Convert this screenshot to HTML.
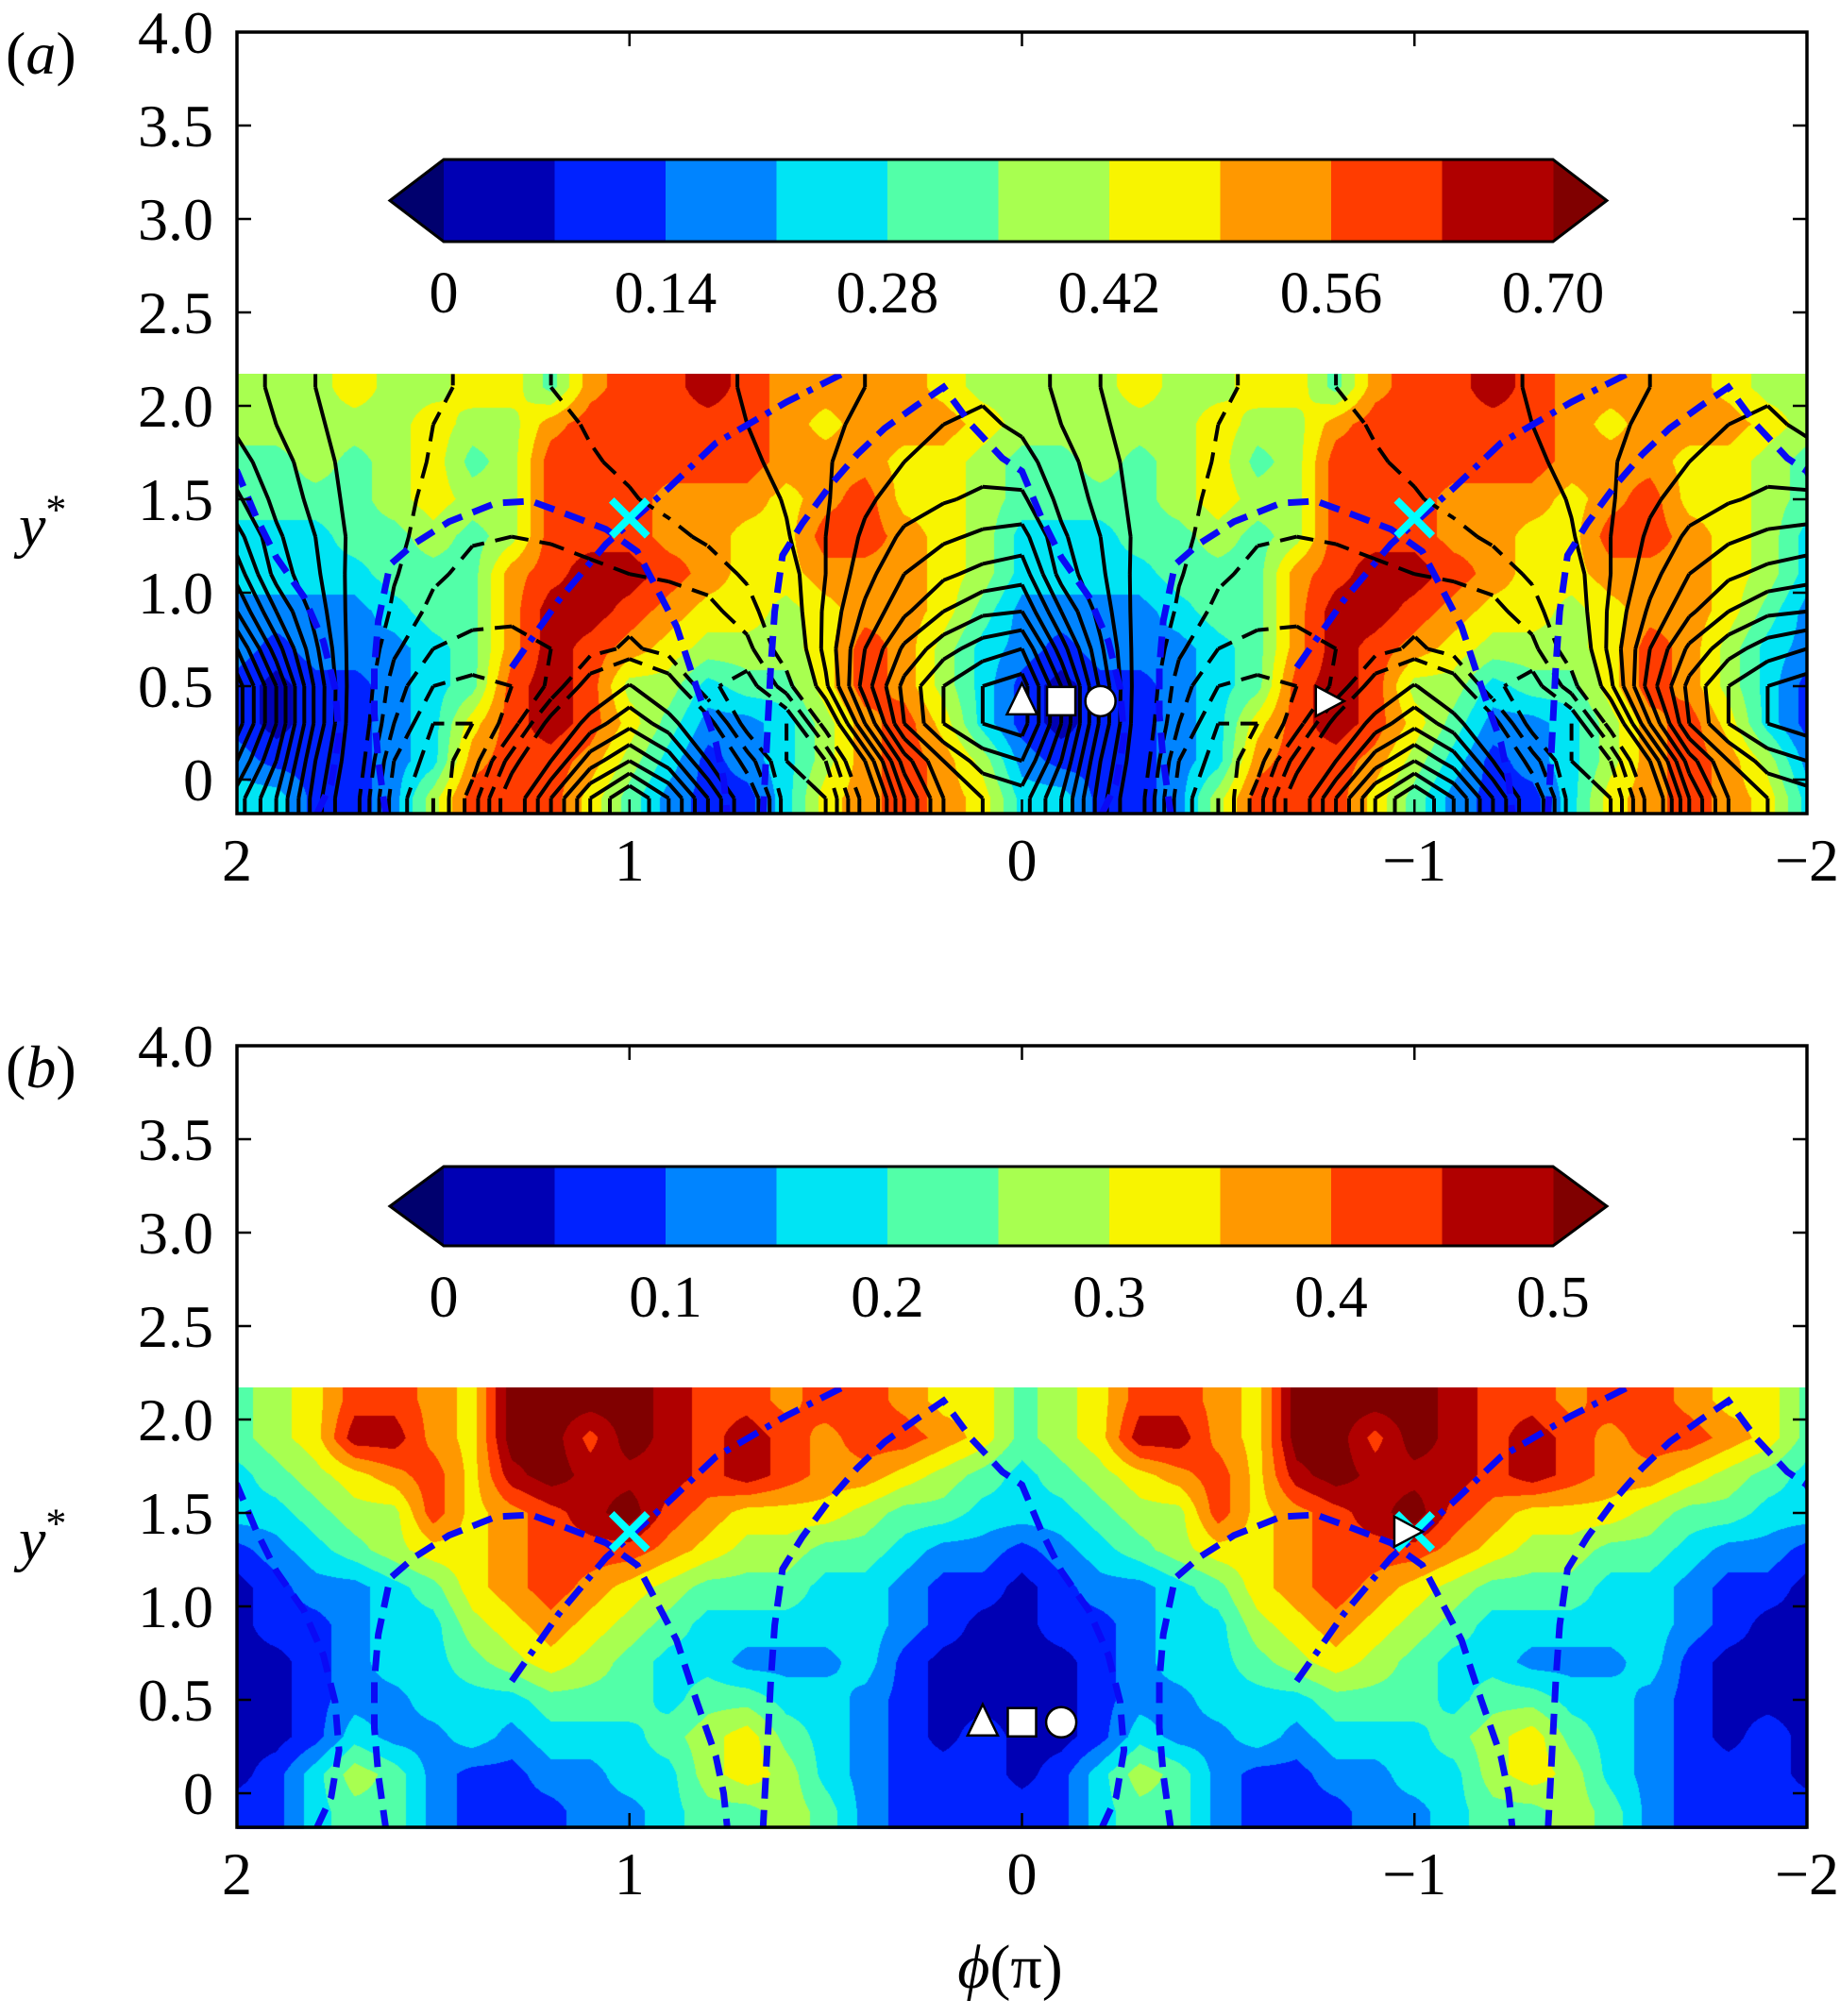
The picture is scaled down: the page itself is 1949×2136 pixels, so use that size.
<!DOCTYPE html>
<html><head><meta charset="utf-8"><style>
html,body{margin:0;padding:0;background:#fff;}
#wrap{position:relative;width:1949px;height:2136px;overflow:hidden;background:#fff;}
canvas{position:absolute;}
svg{position:absolute;left:0;top:0;}
text{font-family:"Liberation Serif",serif;fill:#000;}
</style></head><body>
<div id="wrap">
<canvas id="ca" width="1663" height="466" style="left:251px;top:396px"></canvas>
<canvas id="cb" width="1663" height="468" style="left:251px;top:1470px"></canvas>
<svg id="svg" width="1949" height="2136"></svg>
</div>
<script>
// ---------- data ----------
const phiTicks = [2, 1, 0, -1, -2];
const phiTickLabels = ['2', '1', '0', '\u22121', '\u22122'];
const yTicks = [0, 0.5, 1.0, 1.5, 2.0, 2.5, 3.0, 3.5, 4.0];
const yTickLabels = ['0', '0.5', '1.0', '1.5', '2.0', '2.5', '3.0', '3.5', '4.0'];
const cbarLabelsA = ['0', '0.14', '0.28', '0.42', '0.56', '0.70'];
const cbarLabelsB = ['0', '0.1', '0.2', '0.3', '0.4', '0.5'];
// grid: columns phi = 2.0, 1.9, ... 0.1 (one 2π period, repeated); rows y* below
const gridRowsY = [2.1, 1.9, 1.7, 1.5, 1.3, 1.1, 0.9, 0.7, 0.5, 0.3, 0.1, -0.1];
const fieldA = [
[.39,.39,.39,.46,.39,.39,.46,.46,.32,.53,.60,.60,.67,.60,.53,.53,.53,.53,.46,.39],
[.39,.39,.39,.39,.39,.46,.39,.39,.53,.60,.60,.60,.60,.60,.53,.46,.53,.53,.53,.46],
[.32,.32,.39,.32,.39,.46,.32,.39,.60,.60,.60,.60,.60,.60,.53,.53,.53,.46,.46,.39],
[.32,.32,.32,.32,.39,.46,.39,.39,.60,.60,.60,.53,.53,.53,.46,.53,.60,.46,.46,.39],
[.25,.25,.25,.32,.32,.39,.32,.39,.60,.60,.60,.53,.53,.46,.46,.60,.60,.53,.46,.39],
[.25,.25,.25,.25,.32,.32,.32,.53,.60,.67,.67,.60,.53,.46,.46,.53,.53,.53,.46,.39],
[.18,.18,.18,.18,.25,.32,.32,.53,.67,.67,.60,.53,.46,.46,.39,.46,.53,.53,.46,.32],
[.18,.11,.18,.18,.18,.25,.32,.53,.67,.60,.53,.46,.39,.39,.39,.46,.60,.53,.39,.25],
[.11,.04,.11,.11,.18,.25,.32,.60,.67,.60,.39,.39,.25,.32,.32,.46,.60,.53,.39,.25],
[.11,.04,.11,.11,.18,.25,.46,.60,.67,.60,.46,.32,.18,.18,.25,.39,.53,.60,.46,.25],
[.18,.11,.11,.11,.18,.25,.53,.60,.60,.53,.39,.25,.11,.18,.25,.39,.53,.60,.53,.39],
[.25,.25,.11,.11,.18,.39,.60,.60,.60,.46,.32,.18,.11,.11,.25,.46,.53,.60,.53,.46]
];
const fieldB = [
[.23,.28,.33,.43,.43,.38,.33,.53,.53,.53,.53,.48,.43,.43,.38,.43,.43,.38,.33,.33],
[.23,.28,.33,.48,.48,.38,.33,.53,.53,.43,.53,.48,.43,.48,.43,.38,.43,.43,.38,.33],
[.18,.23,.28,.33,.38,.43,.33,.48,.53,.48,.48,.48,.43,.48,.43,.38,.38,.33,.28,.23],
[.18,.18,.23,.28,.28,.43,.33,.38,.43,.48,.53,.43,.38,.33,.33,.33,.28,.23,.23,.18],
[.08,.13,.18,.23,.28,.33,.33,.38,.43,.43,.43,.38,.33,.28,.28,.23,.23,.18,.13,.13],
[.03,.08,.13,.13,.18,.23,.33,.38,.43,.38,.33,.28,.23,.23,.23,.18,.18,.13,.08,.08],
[.03,.08,.08,.13,.18,.18,.28,.33,.38,.33,.28,.23,.18,.18,.18,.18,.18,.13,.08,.03],
[.03,.03,.08,.13,.18,.18,.23,.28,.33,.28,.23,.18,.18,.13,.13,.13,.18,.08,.03,.03],
[.03,.03,.08,.13,.13,.18,.18,.18,.23,.23,.23,.18,.23,.23,.18,.18,.13,.08,.03,.03],
[.03,.03,.08,.18,.13,.13,.18,.13,.18,.18,.18,.23,.28,.33,.23,.18,.13,.08,.03,.08],
[.03,.08,.18,.28,.23,.13,.08,.08,.13,.13,.18,.18,.28,.33,.28,.18,.13,.08,.08,.08],
[.08,.08,.18,.23,.23,.13,.08,.08,.08,.13,.13,.18,.23,.23,.28,.23,.13,.08,.08,.08]
];
// contour field (panel a), solid = positive, dashed = negative
const psiA = [
[2.5,1.8,1.0,0.3,-0.3,-0.8,-1.2,-1.2,-1.0,-0.7,-0.3,0.2,0.7,1.1,1.4,1.7,2.0,2.3,2.6,2.8],
[2.8,2.0,1.2,0.4,-0.4,-1.0,-1.5,-1.5,-1.3,-0.9,-0.5,0.0,0.6,1.0,1.4,1.8,2.2,2.6,3.0,3.2],
[3.4,2.4,1.5,0.5,-0.5,-1.1,-1.5,-1.4,-1.3,-1.1,-0.8,-0.3,0.3,0.8,1.3,1.9,2.5,3.0,3.4,3.6],
[4.2,2.7,1.7,0.6,-0.6,-1.3,-1.6,-1.6,-1.5,-1.3,-1.1,-0.7,-0.2,0.4,1.1,1.9,2.8,3.5,3.9,4.2],
[5.4,3.2,2.0,0.7,-0.7,-1.5,-1.9,-2.0,-1.9,-1.7,-1.5,-1.3,-0.8,0.0,0.9,2.0,3.2,4.2,4.8,5.2],
[6.6,3.6,2.2,0.6,-0.9,-1.8,-2.3,-2.5,-2.4,-2.2,-2.0,-1.9,-1.6,-0.8,0.5,2.0,3.6,5.0,5.8,6.3],
[8.0,5.0,2.6,0.5,-1.2,-2.3,-2.7,-2.8,-2.7,-2.5,-2.4,-2.4,-2.3,-1.5,0.2,2.2,4.2,5.8,7.0,7.8],
[10,6.5,3.2,0.4,-1.8,-3.0,-3.3,-3.3,-3.0,-2.4,-1.8,-2.4,-2.8,-2.3,-0.3,2.3,5.0,7.2,8.6,9.5],
[11.5,8,3.8,0.3,-2.5,-4.0,-4.3,-4.0,-2.8,-0.3,1.1,-0.3,-2.8,-3.5,-1.5,1.8,5.5,8.3,10,11],
[11.5,8,3.8,0.2,-3.0,-5.0,-5.0,-3.5,-0.5,1.5,2.7,1.5,-0.5,-3.5,-4.0,-0.5,4.0,8.0,10,11],
[10,7,3,0,-4,-5.5,-4.5,-1.5,1,3.5,5,3.5,1,-1.5,-4,-3,1,5.5,8,9.5],
[8.5,6,2.5,-0.5,-4.5,-6,-3.5,0,3,6,8,6,3,0,-3.5,-4,-0.5,4,7,8]
];
const contourLevelsPos = [1,2,3,4,5,6,7,8,9,10,11];
const contourLevelsNeg = [-1,-2,-3,-4,-5,-6];
// blue reference curves (phi, y*) for one period, repeated every 2π
const curveDashDot = [[1.3,0.6],[1.18,0.96],[1.06,1.26],[0.9,1.56],[0.78,1.8],[0.6,2.02],[0.44,2.19]];
const curveDashA = [[0.66,-0.2],[0.65,0.2],[0.64,0.6],[0.63,0.9],[0.61,1.2],[0.56,1.37],[0.49,1.57],[0.42,1.74],[0.35,1.88],[0.27,2.0],[0.2,2.1],[0.13,1.9],[0.05,1.72],[0.0,1.65],[-0.05,1.4],[-0.1,1.19],[-0.17,0.98],[-0.22,0.74],[-0.25,0.49],[-0.26,0.23],[-0.24,-0.02],[-0.2,-0.2]];
const curveDashB = [[1.62,-0.2],[1.64,0.1],[1.65,0.35],[1.65,0.6],[1.64,0.85],[1.61,1.15],[1.55,1.26],[1.46,1.38],[1.34,1.48],[1.25,1.49],[1.16,1.42],[1.06,1.34],[0.98,1.22],[0.93,1.02],[0.88,0.82],[0.83,0.5],[0.78,0.2],[0.76,0.0],[0.75,-0.2]];
const crossPts = [[1.0,1.4],[-1.0,1.4]];
const markersA = {tri:[0,0.42], sq:[-0.1,0.42], circ:[-0.2,0.42], right:[-0.78,0.42]};
const markersB = {tri:[0.1,0.38], sq:[0,0.38], circ:[-0.1,0.38], right:[-0.98,1.4]};

const colors = ['#00006e','#0000b4','#0022ff','#0084ff','#00e4f4','#52ffa8','#a8ff50','#f8f400','#ff9800','#ff3c00','#b00000','#800000'];

// ---------- geometry ----------
const X0 = 251, X1 = 1914, PX = (X1 - X0) / 4, SY = 198;
const panels = [
  {id:'a', top:34, field:fieldA, step:0.07, canvas:'ca', cbar:cbarLabelsA, cbTop:169, cbBot:256, markers:markersA},
  {id:'b', top:1108, field:fieldB, step:0.05, canvas:'cb', cbar:cbarLabelsB, cbTop:1236, cbBot:1320, markers:markersB}
];
const xOf = phi => X0 + (2 - phi) * PX;
const NS = 'http://www.w3.org/2000/svg';
const svg = document.getElementById('svg');
function mk(tag, attrs, parent) {
  const e = document.createElementNS(NS, tag);
  for (const k in attrs) e.setAttribute(k, attrs[k]);
  (parent || svg).appendChild(e);
  return e;
}
function sample(field, fi, fj) {
  fj = Math.max(0, Math.min(11, fj));
  const i0 = Math.floor(fi), j0 = Math.min(10, Math.floor(fj));
  const tx = fi - i0, ty = fj - j0;
  const c0 = ((i0 % 20) + 20) % 20, c1 = (c0 + 1) % 20;
  const r0 = field[j0], r1 = field[j0 + 1];
  const a = r0[c0] * (1 - tx) + r0[c1] * tx;
  const b = r1[c0] * (1 - tx) + r1[c1] * tx;
  return a * (1 - ty) + b * ty;
}
function colorFor(v, step) {
  if (v < 0) return colors[0];
  const l = Math.floor(v / step);
  if (l >= 10) return colors[11];
  return colors[l + 1];
}
function hexRGB(h) { return [parseInt(h.substr(1,2),16), parseInt(h.substr(3,2),16), parseInt(h.substr(5,2),16)]; }

panels.forEach(p => {
  const yOf = y => p.top + (4 - y) * SY;
  const cv = document.getElementById(p.canvas);
  const ctx = cv.getContext('2d');
  const W = cv.width, H = cv.height;
  const img = ctx.createImageData(W, H);
  const dataTopY = 2.17;
  for (let cy = 0; cy < H; cy++) {
    const y = dataTopY - (cy + 0.5) / SY;
    const fj = (2.1 - y) / 0.2;
    for (let cx = 0; cx < W; cx++) {
      const fi = (cx + 0.5) / (PX * 0.1);
      const v = sample(p.field, fi, fj);
      const rgb = hexRGB(colorFor(v, p.step));
      const k = (cy * W + cx) * 4;
      img.data[k] = rgb[0]; img.data[k+1] = rgb[1]; img.data[k+2] = rgb[2]; img.data[k+3] = 255;
    }
  }
  ctx.putImageData(img, 0, 0);

  const g = mk('g', {});
  
  
  const clipId = 'clip' + p.id;
  const cp = mk('clipPath', {id: clipId}, g);
  mk('rect', {x: X0, y: yOf(2.17), width: X1 - X0, height: yOf(-0.182) - yOf(2.17)}, cp);
  const plot = mk('g', {'clip-path': 'url(#' + clipId + ')'}, g);

  if (p.id === 'a') {
    const rows = [psiA[0]].concat(psiA).concat([psiA[11]]);
    const ysN = [2.2].concat(gridRowsY).concat([-0.2]);
    const val = (i, j) => rows[j][((i % 20) + 20) % 20];
    const levels = contourLevelsPos.concat(contourLevelsNeg);
    levels.forEach(L => {
      let d = '';
      for (let j = 0; j < ysN.length - 1; j++) {
        for (let i = 0; i < 40; i++) {
          const xa = X0 + i * PX * 0.1, xb = X0 + (i + 1) * PX * 0.1;
          const ya = yOf(ysN[j]), yb = yOf(ysN[j + 1]);
          const a = val(i, j) - L, b = val(i + 1, j) - L, c = val(i + 1, j + 1) - L, dd = val(i, j + 1) - L;
          const pts = [];
          if ((a > 0) !== (b > 0)) pts.push([xa + (xb - xa) * a / (a - b), ya]);
          if ((b > 0) !== (c > 0)) pts.push([xb, ya + (yb - ya) * b / (b - c)]);
          if ((dd > 0) !== (c > 0)) pts.push([xa + (xb - xa) * dd / (dd - c), yb]);
          if ((a > 0) !== (dd > 0)) pts.push([xa, ya + (yb - ya) * a / (a - dd)]);
          for (let k = 0; k + 1 < pts.length; k += 2) {
            d += 'M' + pts[k][0].toFixed(1) + ' ' + pts[k][1].toFixed(1) + 'L' + pts[k+1][0].toFixed(1) + ' ' + pts[k+1][1].toFixed(1);
          }
        }
      }
      if (!d) return;
      const path = mk('path', {d: d, fill: 'none', stroke: '#000', 'stroke-width': 4, 'stroke-linecap': 'butt'}, plot);
      if (L < 0) path.setAttribute('stroke-dasharray', '18 12');
      
      
    });
  }

  [[curveDashDot, '24 10 6 10', 'dash-dot-curve'], [curveDashA, '22 12', 'dashed-curve-a'], [curveDashB, '22 12', 'dashed-curve-b']].forEach(cfg => {
    [-2, 0, 2].forEach(sh => {
      const d = cfg[0].map((pt, k) => (k ? 'L' : 'M') + xOf(pt[0] + sh).toFixed(1) + ' ' + yOf(pt[1]).toFixed(1)).join('');
      const path = mk('path', {d: d, fill: 'none', stroke: '#0a0af5', 'stroke-width': 7, 'stroke-dasharray': cfg[1]}, plot);
      
      
    });
  });

  crossPts.forEach(pt => {
    const cx = xOf(pt[0]), cy = yOf(pt[1]), s = 19;
    const path = mk('path', {d: `M${cx-s} ${cy-s}L${cx+s} ${cy+s}M${cx-s} ${cy+s}L${cx+s} ${cy-s}`, stroke: '#00ffff', 'stroke-width': 8, fill: 'none'}, g);
    
    
  });
  const m = p.markers;
  let cx = xOf(m.tri[0]), cy = yOf(m.tri[1]);
  let e = mk('polygon', {points: `${cx},${cy-19} ${cx-16},${cy+14} ${cx+16},${cy+14}`, fill: '#fff', stroke: '#000', 'stroke-width': 2.5}, g);
  
  
  cx = xOf(m.sq[0]); cy = yOf(m.sq[1]);
  e = mk('rect', {x: cx - 15, y: cy - 15, width: 30, height: 30, fill: '#fff', stroke: '#000', 'stroke-width': 2.5}, g);
  
  
  cx = xOf(m.circ[0]); cy = yOf(m.circ[1]);
  e = mk('circle', {cx: cx, cy: cy, r: 16, fill: '#fff', stroke: '#000', 'stroke-width': 2.5}, g);
  
  
  cx = xOf(m.right[0]); cy = yOf(m.right[1]);
  e = mk('polygon', {points: `${cx+17},${cy} ${cx-13},${cy-16} ${cx-13},${cy+16}`, fill: '#fff', stroke: '#000', 'stroke-width': 2.5}, g);
  
  

  const cb = mk('g', {}, g);
  
  
  const cbL = 470, cbR = 1645, bw = (cbR - cbL) / 10, cmid = (p.cbTop + p.cbBot) / 2;
  mk('polygon', {points: `${cbL},${p.cbTop} ${cbL-57},${cmid} ${cbL},${p.cbBot}`, fill: colors[0]}, cb);
  mk('polygon', {points: `${cbR},${p.cbTop} ${cbR+57},${cmid} ${cbR},${p.cbBot}`, fill: colors[11]}, cb);
  for (let k = 0; k < 10; k++) mk('rect', {x: cbL + k * bw, y: p.cbTop, width: bw + 0.5, height: p.cbBot - p.cbTop, fill: colors[k + 1]}, cb);
  mk('polygon', {points: `${cbL},${p.cbTop} ${cbR},${p.cbTop} ${cbR+57},${cmid} ${cbR},${p.cbBot} ${cbL},${p.cbBot} ${cbL-57},${cmid}`, fill: 'none', stroke: '#000', 'stroke-width': 3}, cb);
  p.cbar.forEach((lab, k) => {
    const t = mk('text', {x: cbL + k * 2 * bw, y: p.cbBot + 75, 'font-size': 62, 'text-anchor': 'middle'}, cb);
    t.textContent = lab;
    
    
  });

  const yB = yOf(-0.182);
  const frame = mk('rect', {x: X0, y: p.top, width: X1 - X0, height: yB - p.top, fill: 'none', stroke: '#000', 'stroke-width': 3.5}, g);
  
  
  let td = '';
  yTicks.forEach(v => { const yy = yOf(v); td += `M${X0} ${yy}h15M${X1} ${yy}h-15`; });
  phiTicks.forEach(v => { const xx = xOf(v); td += `M${xx} ${p.top}v15M${xx} ${yB}v-15`; });
  const tk = mk('path', {d: td, stroke: '#000', 'stroke-width': 2.5, fill: 'none'}, g);
  
  
  yTicks.forEach((v, k) => {
    const t = mk('text', {x: 226, y: yOf(v) + 22, 'font-size': 64, 'text-anchor': 'end'}, g);
    t.textContent = yTickLabels[k];
    
    
  });
  phiTicks.forEach((v, k) => {
    const t = mk('text', {x: xOf(v), y: yB + 71, 'font-size': 64, 'text-anchor': 'middle'}, g);
    t.textContent = phiTickLabels[k];
    
    
  });
  const yl = mk('text', {x: 20, y: yOf(1.35) + 20, 'font-size': 64, 'font-style': 'italic'}, g);
  yl.textContent = 'y';
  
  
  const ys = mk('tspan', {dy: -24, 'font-size': 44, 'font-style': 'normal'}, yl);
  ys.textContent = '*';
  const pl = mk('text', {x: 6, y: p.top + 44, 'font-size': 64}, g);
  
  
  mk('tspan', {}, pl).textContent = '(';
  mk('tspan', {'font-style': 'italic'}, pl).textContent = p.id;
  mk('tspan', {}, pl).textContent = ')';
});
const xl = mk('text', {x: 1070, y: 2106, 'font-size': 66, 'text-anchor': 'middle'});


mk('tspan', {'font-style': 'italic'}, xl).textContent = '\u03d5';
mk('tspan', {}, xl).textContent = '(\u03c0)';
</script>
</body></html>
